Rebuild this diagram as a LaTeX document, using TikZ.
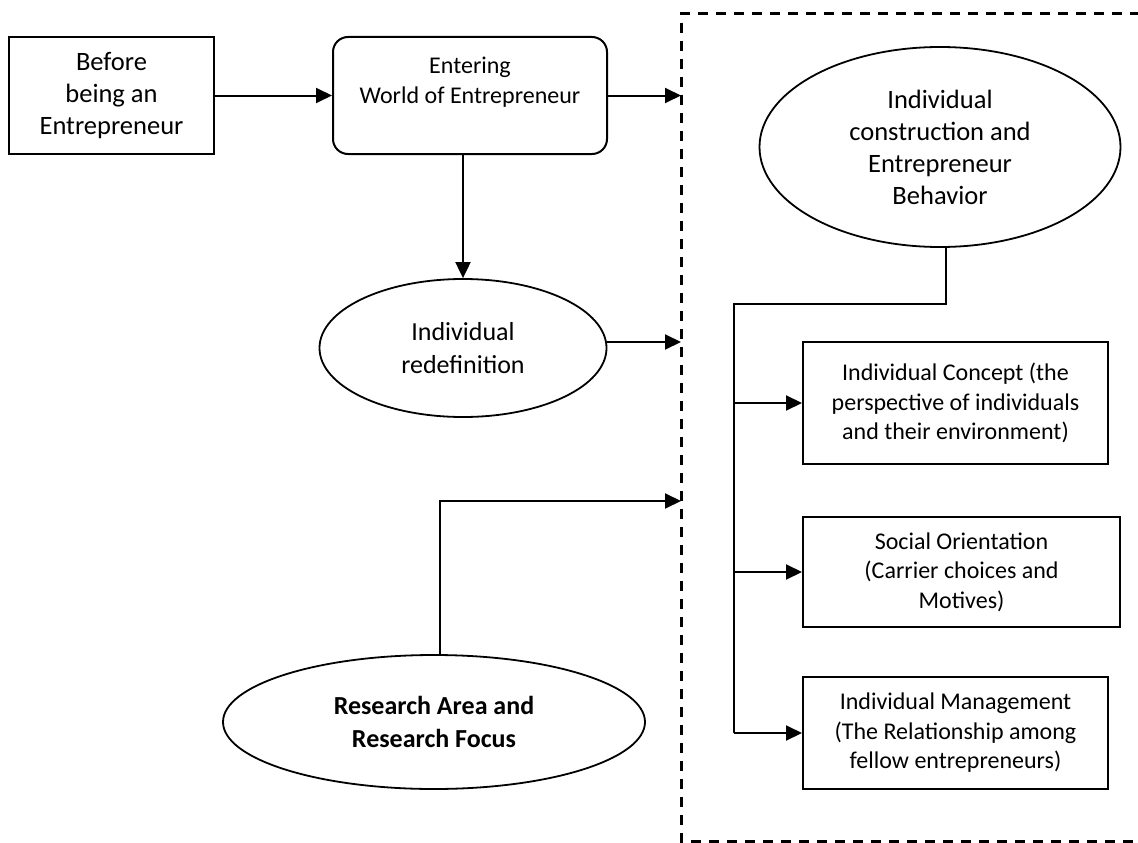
\documentclass[tikz,border=0pt]{standalone}
\usepackage{fontspec}
\setmainfont{Carlito}
\usetikzlibrary{shapes.geometric,arrows.meta}
\tikzset{
  every node/.style={inner sep=0pt, align=center},
  boxA/.style={draw, line width=2pt, rectangle},
  ell/.style={draw, line width=1.8pt, ellipse},
  arr/.style={line width=2pt, -{Triangle[length=16pt,width=15pt]}},
  ln/.style={line width=2pt},
  big/.style={font=\fontsize{26.5}{32}\selectfont},
  mid/.style={font=\fontsize{24}{29.5}\selectfont},
}
\begin{document}
\begin{tikzpicture}[x=1pt,y=-1pt]
\useasboundingbox (0,0) rectangle (1138,843);
% dashed frame
\coordinate (dtr) at (1140,14);
\coordinate (dtl) at (681,14);
\coordinate (dbl) at (681,841);
\coordinate (dbr) at (1140,841);
\draw[line width=3pt, dash pattern=on 10pt off 8pt] (dtr) -- (dtl) -- (dbl) -- (dbr);
% nodes
\node[boxA, big, minimum width=205pt, minimum height=116pt] (b1) at (111.5,95.5) {Before\\being an\\Entrepreneur};
\node[boxA, rounded corners=15pt, font=\fontsize{24}{30}\selectfont, minimum width=274pt, minimum height=117pt] (b2) at (470,95.5) {Entering\\World of Entrepreneur\\\mbox{}};
\node[ell, font=\fontsize{26}{33}\selectfont, minimum width=287pt, minimum height=138pt] (red) at (463,348) {Individual\\redefinition};
\node[ell, font=\fontsize{26}{33}\selectfont\bfseries, minimum width=422pt, minimum height=134pt] (res) at (434,722) {Research Area and\\Research Focus};
\node[ell, font=\fontsize{26.5}{32}\selectfont, minimum width=361pt, minimum height=200pt] (ice) at (940,147) {Individual\\construction and\\Entrepreneur\\Behavior};
\node[boxA, mid, minimum width=305pt, minimum height=122pt] (ic) at (955.5,403) {Individual Concept (the\\perspective of individuals\\and their environment)};
\node[boxA, mid, minimum width=317pt, minimum height=110pt] (so) at (961.5,572) {Social Orientation\\(Carrier choices and\\Motives)};
\node[boxA, mid, minimum width=305pt, minimum height=112pt] (im) at (955.5,733) {Individual Management\\(The Relationship among\\fellow entrepreneurs)};
% connectors
\draw[arr] (b1.east) -- (b2.west);
\draw[arr] (b2.east) -- (b2.east -| dtl);
\draw[arr] (b2.south -| red.north) -- (red.north);
\draw[arr] ([yshift=6pt]red.east) -- ([yshift=6pt]red.east -| dtl);
\coordinate (ra) at (681,501);
\draw[arr] ([xshift=6pt]res.north) |- (ra);
\coordinate (bus) at (734,304);
\draw[ln] ([xshift=6pt]ice.south) |- (bus) -- (bus |- im.west);
\draw[arr] (bus |- ic.west) -- (ic.west);
\draw[arr] (bus |- so.west) -- (so.west);
\draw[arr] (bus |- im.west) -- (im.west);
\end{tikzpicture}
\end{document}
